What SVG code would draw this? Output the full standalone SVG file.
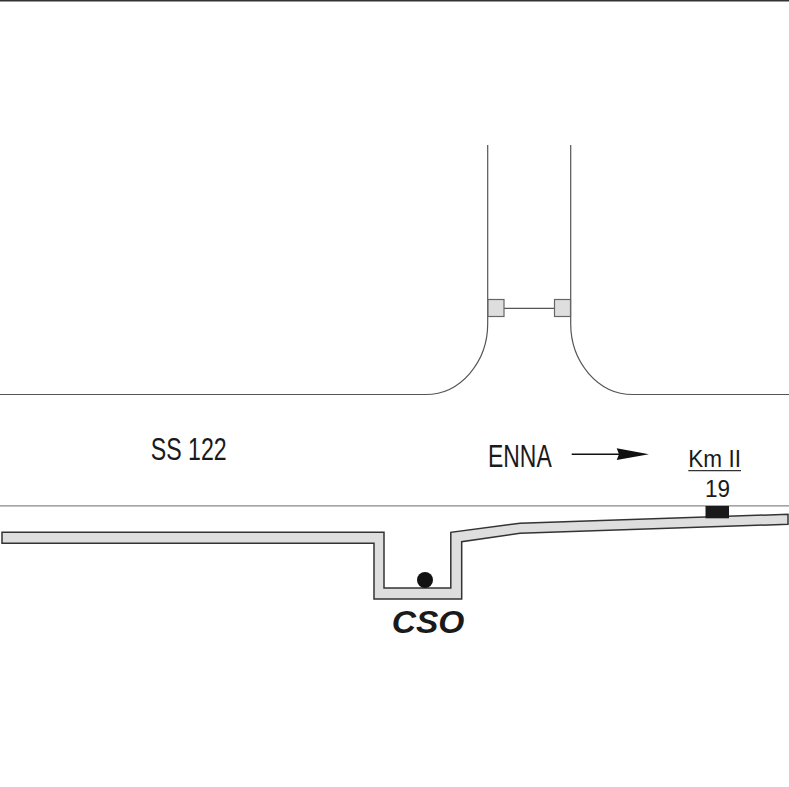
<svg xmlns="http://www.w3.org/2000/svg" width="789" height="787" viewBox="0 0 789 787">
<style>
.ln{fill:none;stroke:#555;stroke-width:1.2}
.band{fill:#dedede;stroke:#333;stroke-width:1.5;stroke-linejoin:miter}
.sq{fill:#dedede;stroke:#666;stroke-width:1.2}
.t{font-family:"Liberation Sans",Arial,sans-serif;fill:#1a1a1a}
</style>
<rect width="789" height="787" fill="#fff"/>
<line x1="0" y1="0.7" x2="789" y2="0.7" stroke="#333" stroke-width="1.4"/>
<g id="road">
<path class="ln" d="M487.7 145 V323 A62 71 0 0 1 425.7 394.5 H0"/>
<path class="ln" d="M570.7 145 V323 A62 71 0 0 0 632.7 394.5 H789"/>
<line x1="0" y1="505.8" x2="789" y2="505.8" stroke="#888" stroke-width="1.3"/>
</g>
<g id="barrier">
<line x1="504" y1="308.3" x2="554.5" y2="308.3" stroke="#555" stroke-width="1.2"/>
<rect class="sq" x="488" y="299.5" width="16" height="17"/>
<rect class="sq" x="554.5" y="299.5" width="16" height="17"/>
</g>
<g id="sidewalk">
<path class="band" d="M2 532.3 H384 V588 H450.8 V532.3 L520 523.3 L788 514.3 V524.3 L520 533.3 L461.7 541.7 V599 H374 V543.3 H2 Z"/>
</g>
<g id="cso-point">
<circle cx="425" cy="580" r="8" fill="#111"/>
</g>
<g id="km-marker">
<rect x="705.5" y="506" width="23.5" height="12.3" fill="#1a1a1a"/>
<text class="t" x="688.3" y="467.3" font-size="24" textLength="52.7" lengthAdjust="spacingAndGlyphs">Km II</text>
<line x1="688.3" y1="470.7" x2="741" y2="470.7" stroke="#333" stroke-width="1.2"/>
<text class="t" x="705" y="496.7" font-size="24" textLength="25" lengthAdjust="spacingAndGlyphs">19</text>
</g>
<g id="labels">
<text class="t" x="150.7" y="460" font-size="32" textLength="76" lengthAdjust="spacingAndGlyphs">SS 122</text>
<text class="t" x="488" y="466.7" font-size="31.5" textLength="63.7" lengthAdjust="spacingAndGlyphs">ENNA</text>
<text class="t" x="391.7" y="633.3" font-size="31.5" font-weight="bold" font-style="italic" textLength="72.6" lengthAdjust="spacingAndGlyphs">CSO</text>
</g>
<g id="connectors">
<line x1="571.7" y1="454.2" x2="620" y2="454.2" stroke="#111" stroke-width="1.6"/>
<path d="M616.7 448.3 L649 454.2 L616.7 460 L619 454.2 Z" fill="#111"/>
</g>
</svg>
